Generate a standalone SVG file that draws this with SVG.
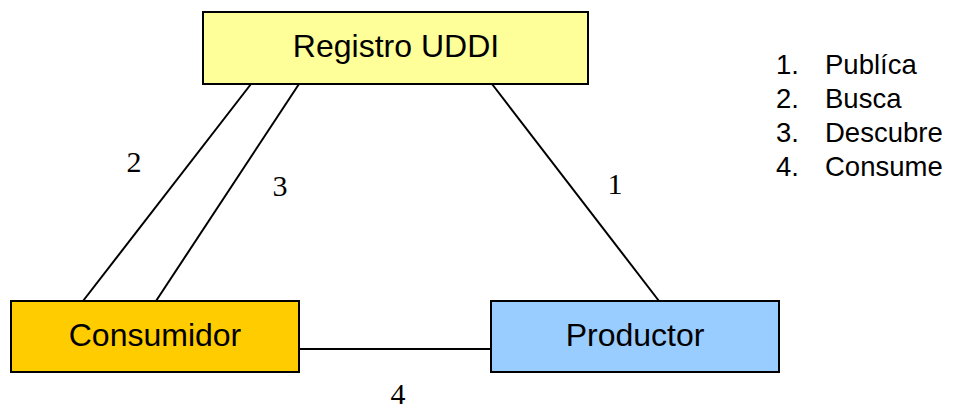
<svg xmlns="http://www.w3.org/2000/svg" width="957" height="410" viewBox="0 0 957 410">
  <style>
    .box { stroke: #000; stroke-width: 2; }
    .name { font-family: "Liberation Sans", Arial, sans-serif; font-size: 32px; fill: #000; text-anchor: middle; }
    .edge { stroke: #000; stroke-width: 2; fill: none; }
    .num { font-family: "Liberation Serif", "Times New Roman", serif; font-size: 30px; fill: #000; text-anchor: middle; }
    .legend { font-family: "Liberation Sans", Arial, sans-serif; font-size: 27.5px; fill: #000; }
  </style>
  <rect width="957" height="410" fill="#fff"/>

  <g id="connectors">
    <line class="edge" x1="251" y1="84" x2="83" y2="301"/>
    <line class="edge" x1="299" y1="84" x2="156" y2="301"/>
    <line class="edge" x1="492" y1="84" x2="659" y2="301"/>
    <line class="edge" x1="299" y1="349" x2="491" y2="349"/>
    <text class="num" x="134" y="172">2</text>
    <text class="num" x="280" y="196">3</text>
    <text class="num" x="615" y="194">1</text>
    <text class="num" x="398" y="404">4</text>
  </g>

  <g id="registro">
    <rect class="box" x="203" y="12" width="385" height="72" fill="#ffff99"/>
    <text class="name" x="396" y="57">Registro UDDI</text>
  </g>

  <g id="consumidor">
    <rect class="box" x="11" y="301" width="288" height="71" fill="#ffcc00"/>
    <text class="name" x="155" y="346">Consumidor</text>
  </g>

  <g id="productor">
    <rect class="box" x="491" y="301" width="288" height="71" fill="#99ccff"/>
    <text class="name" x="635" y="346">Productor</text>
  </g>

  <g id="legend" class="legend">
    <text x="776" y="74">1.</text><text x="825" y="74">Publíca</text>
    <text x="776" y="108">2.</text><text x="825" y="108">Busca</text>
    <text x="776" y="142">3.</text><text x="825" y="142">Descubre</text>
    <text x="776" y="176">4.</text><text x="825" y="176">Consume</text>
  </g>
</svg>
